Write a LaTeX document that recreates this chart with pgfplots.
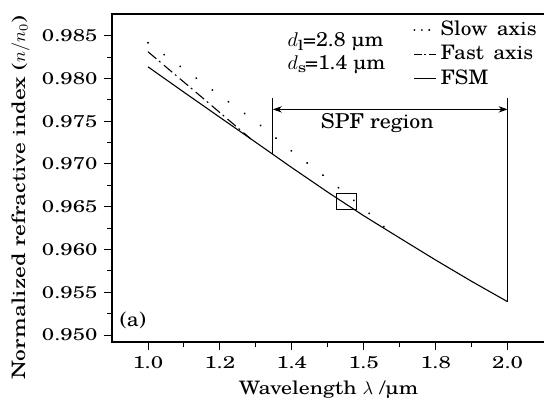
\documentclass[border=0pt]{standalone}
\usepackage{fontspec}
\setmainfont{TeX Gyre Schola}[FakeStretch=1.3]
\newfontfamily\annot{TeX Gyre Schola}[FakeStretch=1.07]
\newfontfamily\labfont{TeX Gyre Schola}[FakeStretch=1.18]
\newfontfamily\ylabfont{TeX Gyre Schola}[FakeStretch=1.27]
\usepackage{pgfplots}
\pgfplotsset{compat=1.18}
\usetikzlibrary{arrows.meta,calc}
\newcommand{\fs}[1]{\fontsize{#1}{#1}\selectfont}
\begin{document}
\begin{tikzpicture}
\begin{axis}[
  scale only axis, width=238.8pt, height=180.9pt,
  xmin=-0.5, xmax=5.52, ymin=0.94918, ymax=0.98754,
  xtick={0,1,2,3,4,5}, xticklabels={1.0,1.2,1.4,1.5,1.8,2.0},
  ytick={0.950,0.955,0.960,0.965,0.970,0.975,0.980,0.985},
  minor x tick num=1, minor y tick num=1,
  tick align=outside, xtick pos=bottom, ytick pos=left,
  major tick length=4.5pt, minor tick length=2.5pt,
  yticklabel style={/pgf/number format/fixed, /pgf/number format/precision=3, /pgf/number format/fixed zerofill},
  /pgf/number format/assume math mode=true,
  ticklabel style={font=\fs{9.4}},
  xlabel style={font=\labfont\fs{10.2}},
  ylabel style={font=\ylabfont\fs{10.2}, at={(ticklabel cs:0.44)}},
  xlabel={Wavelength $\lambda$ /µm},
  ylabel={Normalized refractive index ($n/n_0$)},
  axis line style={line width=0.6pt},
  every tick/.style={line width=0.5pt, black},
  legend style={draw=none, fill=none, at={(rel axis cs:0.695,0.991)}, anchor=north west, font=\annot\fs{11}, row sep=0pt, inner sep=0pt},
  legend cell align=left,
  legend image code/.code={\draw[#1] (0pt,0pt) -- (12pt,0pt);},
]
\addplot[black, line width=1.1pt, line cap=round, dash pattern=on 0.1pt off 10.9pt, forget plot] coordinates {
(0,0.98417) (0.5,0.98109) (1.0,0.97800) (1.5,0.97495) (2.0,0.97150) (2.5,0.96825) (3.0,0.96478) (3.35,0.96215)};
\addplot[black, line width=0.6pt, dash pattern=on 6pt off 2pt on 1pt off 2.5pt, forget plot] coordinates {
(0,0.98312) (0.7,0.97815) (1.43,0.97293)};
\addplot[black, line width=0.6pt, forget plot] coordinates {
(0,0.98136) (0.5,0.97839) (1.0,0.97545) (1.5,0.97252) (2.0,0.96957) (2.5,0.96670) (3.0,0.96394) (3.5,0.96134) (4.0,0.95876) (4.5,0.95627) (5.0,0.95389)};
\addlegendimage{black, line width=1.1pt, line cap=round, dash pattern=on 0.1pt off 4pt}
\addlegendentry{Slow\, axis}
\addlegendimage{black, line width=0.6pt, dash pattern=on 4pt off 1.5pt on 1pt off 1.5pt}
\addlegendentry{Fast\, axis}
\addlegendimage{black, line width=0.6pt}
\addlegendentry{FSM}
% annotations
\draw[line width=0.5pt] (axis cs:1.736,0.97771) -- (axis cs:1.736,0.97114);
\draw[line width=0.5pt] (axis cs:5,0.97771) -- (axis cs:5,0.95389);
\draw[line width=0.5pt, {Stealth[length=5pt,width=3.5pt]}-{Stealth[length=5pt,width=3.5pt]}] (axis cs:1.736,0.97638) -- (axis cs:5,0.97638);
\node[font=\annot\fs{11.3}] at (axis cs:3.19,0.97478) {SPF region};
\node[font=\annot\fs{11}, anchor=west, inner sep=0pt] at (axis cs:1.935,0.98425) {$d_{\mathrm{l}}$=2.8 µm};
\node[font=\annot\fs{11}, anchor=west, inner sep=0pt] at (axis cs:1.935,0.98156) {$d_{\mathrm{s}}$=1.4 µm};
\draw[line width=0.5pt] (axis cs:2.625,0.96657) rectangle (axis cs:2.893,0.96473);
\node[font=\annot\fs{11}] at (axis cs:-0.21,0.9517) {(a)};
\end{axis}
\pgfresetboundingbox
\path[use as bounding box] ($(current axis.south west)+(-61.77pt,-33.65pt)$) rectangle ($(current axis.south west)+(238.23pt,188.6pt)$);
\end{tikzpicture}
\end{document}
